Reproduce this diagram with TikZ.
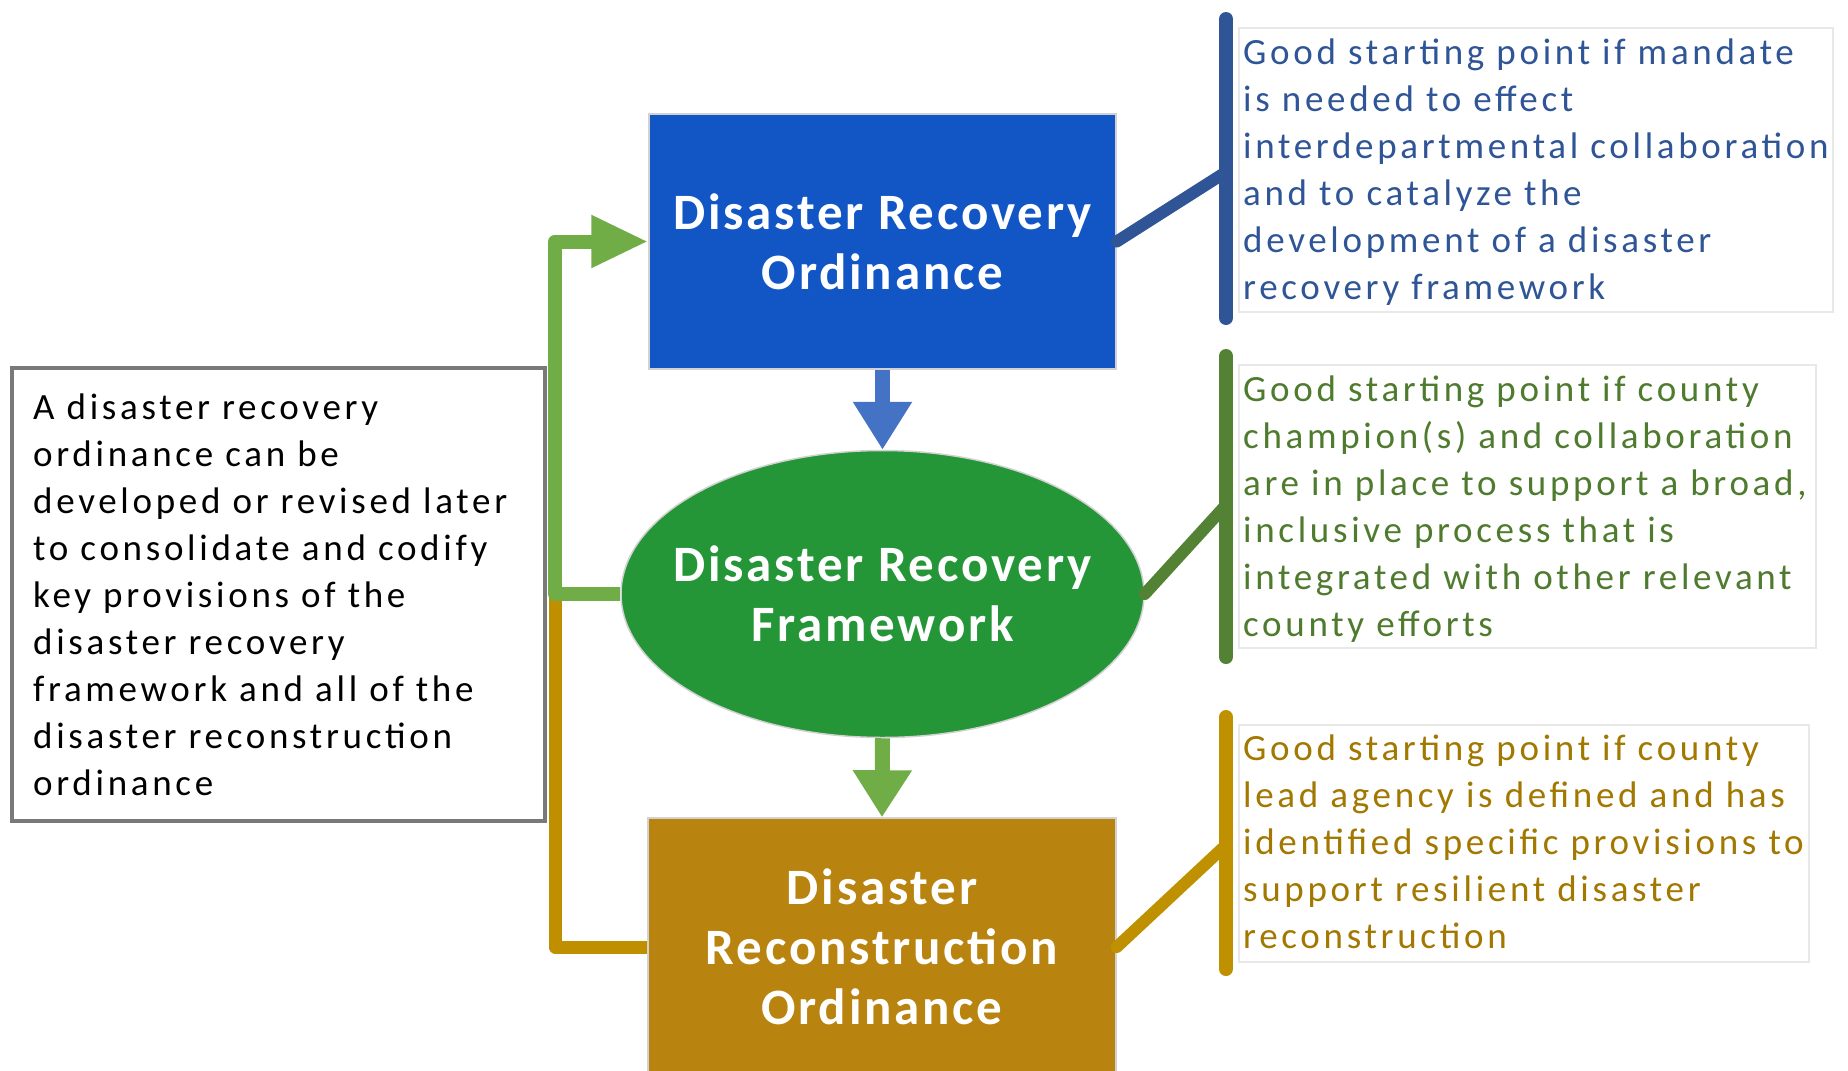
\documentclass[tikz,border=0pt]{standalone}
\usepackage{fontspec}
\setmainfont{Carlito}[LetterSpace=10]
\newfontfamily\headfont{Carlito}[LetterSpace=5.5]
\usetikzlibrary{shapes.geometric,arrows.meta}
\definecolor{boxblue}{HTML}{1156C4}
\definecolor{ellgreen}{HTML}{259637}
\definecolor{boxbrown}{HTML}{B8830E}
\definecolor{arrblue}{HTML}{4472C4}
\definecolor{arrgreen}{HTML}{70AD47}
\definecolor{goldline}{HTML}{BF8F00}
\definecolor{brkblue}{HTML}{2F5597}
\definecolor{brkgreen}{HTML}{548235}
\definecolor{brkgold}{HTML}{BF9000}
\definecolor{txtblue}{HTML}{2F5597}
\definecolor{txtgreen}{HTML}{4F7B2F}
\definecolor{txtgold}{HTML}{A27800}
\newcommand\fstrut{\rule{0pt}{30pt}}
\begin{document}
\begin{tikzpicture}[x=1pt,y=-1pt,
  headfont/.style={font=\headfont\bfseries\fontsize{51}{60}\selectfont, text=white, align=center},
  headtext/.style={headfont, inner sep=0pt, draw=gray!35, line width=1.5pt},
  ctext/.style={anchor=north west, inner sep=0pt, align=left, font=\fontsize{37}{47}\selectfont},
  cbox/.style={draw=gray!18, line width=1.5pt, inner sep=0pt},
  brk/.style={line width=14pt, line cap=round},
  diag/.style={line width=12pt, line cap=round}]
\path[use as bounding box] (0,0) rectangle (1848,1071);
\clip (0,0) rectangle (1848,1071);
\fill[white] (0,0) rectangle (1848,1071);

% left note
\node[draw=gray!95!black, line width=4.5pt, minimum width=533pt, minimum height=453pt, inner sep=0pt] (note) at (278.5,594.5) {};
\node[ctext, text=black] (notetext) at (33,389) {\fstrut A disaster recovery\\ordinance can be\\developed or revised later\\to consolidate and codify\\key provisions of the\\disaster recovery\\framework and all of the\\disaster reconstruction\\ordinance};

% main shapes
\node[headtext, fill=boxblue, minimum width=467pt, minimum height=255pt] (dro) at (882.5,241.5) {Disaster Recovery\\Ordinance};
\node[ellipse, inner sep=0pt, draw=gray!35, line width=1.5pt, fill=ellgreen, minimum width=523pt, minimum height=287pt] (drf) at (882.5,594) {};
\node[headfont, inner sep=0pt] (drflabel) at (drf.center) {Disaster Recovery\\Framework};
\node[headtext, fill=boxbrown, minimum width=468pt, minimum height=258pt] (rco) at (882,947) {Disaster\\Reconstruction\\Ordinance};

% down arrows
\draw[line width=15pt, arrblue, -{Triangle[length=48pt,width=56pt]}] (dro.south) -- (drf.north);
\draw[line width=15pt, arrgreen, -{Triangle[length=47pt,width=56pt]}] (drf.south) -- (rco.north);

% feedback loop
\coordinate (j) at (555,594);
\draw[line width=13pt, goldline, line join=round] (j) |- (rco.west);
\draw[line width=14pt, arrgreen, line join=round, -{Triangle[length=57pt,width=49pt]}] (drf.west) -- (j) |- (dro.west);

% callout boxes
\node[cbox, minimum width=594pt, minimum height=284pt] (cb1) at (1536,170) {};
\node[cbox, minimum width=577pt, minimum height=283pt] (cb2) at (1527.5,506.5) {};
\node[cbox, minimum width=570pt, minimum height=237pt] (cb3) at (1524,843.5) {};

\node[ctext, text=txtblue] (t1) at (1243,34) {\fstrut Good starting point if mandate\\is needed to effect\\interdepartmental collaboration\\and to catalyze the\\development of a disaster\\recovery framework};
\node[ctext, text=txtgreen] (t2) at (1243,371) {\fstrut Good starting point if county\\champion(s) and collaboration\\are in place to support a broad,\\inclusive process that is\\integrated with other relevant\\county efforts};
\node[ctext, text=txtgold] (t3) at (1243,730) {\fstrut Good starting point if county\\lead agency is defined and has\\identified specific provisions to\\support resilient disaster\\reconstruction};

% brackets
\coordinate (b1t) at (1226,19);
\coordinate (b1b) at (1226,318);
\coordinate (b1m) at (1226,172);
\coordinate (b2t) at (1226,356);
\coordinate (b2b) at (1226,657);
\coordinate (b2m) at (1226,505);
\coordinate (b3t) at (1226,717);
\coordinate (b3b) at (1226,969);
\coordinate (b3m) at (1226,845);
\draw[brk, brkblue] (b1t) -- (b1b);
\draw[diag, brkblue] (dro.east) -- (b1m);
\draw[brk, brkgreen] (b2t) -- (b2b);
\draw[diag, brkgreen] (drf.east) -- (b2m);
\draw[brk, brkgold] (b3t) -- (b3b);
\draw[diag, brkgold] (rco.east) -- (b3m);
\end{tikzpicture}
\end{document}
